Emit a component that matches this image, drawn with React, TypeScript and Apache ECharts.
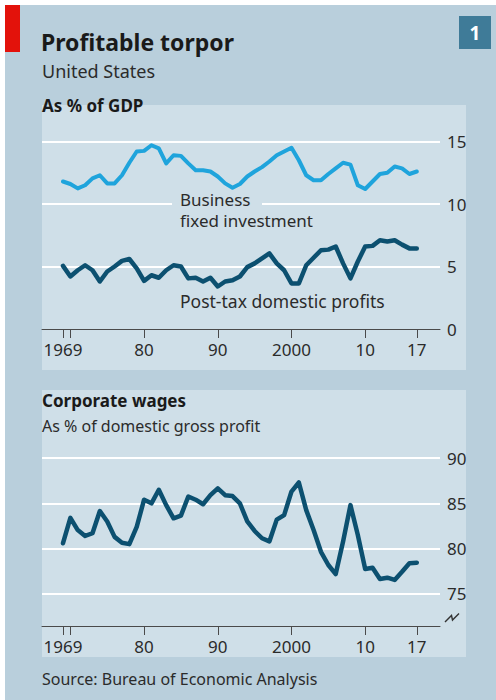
import React, { useEffect, useRef } from "react";
import * as echarts from "echarts";

const years = [
  1969, 1970, 1971, 1972, 1973, 1974, 1975, 1976, 1977, 1978, 1979,
  1980, 1981, 1982, 1983, 1984, 1985, 1986, 1987, 1988, 1989,
  1990, 1991, 1992, 1993, 1994, 1995, 1996, 1997, 1998, 1999,
  2000, 2001, 2002, 2003, 2004, 2005, 2006, 2007, 2008, 2009,
  2010, 2011, 2012, 2013, 2014, 2015, 2016, 2017,
];

const businessInvestment = [
  11.8, 11.6, 11.25, 11.5, 12.05, 12.3, 11.65, 11.65, 12.3, 13.3, 14.2,
  14.25, 14.7, 14.45, 13.25, 13.9, 13.85, 13.25, 12.7, 12.7, 12.6,
  12.2, 11.65, 11.3, 11.6, 12.2, 12.6, 12.95, 13.4, 13.9, 14.2,
  14.5, 13.5, 12.3, 11.9, 11.9, 12.4, 12.85, 13.3, 13.15, 11.5,
  11.2, 11.8, 12.4, 12.5, 13.0, 12.85, 12.4, 12.6,
];

const postTaxProfits = [
  5.05, 4.2, 4.7, 5.1, 4.7, 3.8, 4.6, 5.0, 5.45, 5.6, 4.85,
  3.85, 4.3, 4.1, 4.7, 5.1, 5.0, 4.05, 4.1, 3.8, 4.1,
  3.4, 3.8, 3.9, 4.2, 4.95, 5.25, 5.65, 6.05, 5.25, 4.7,
  3.65, 3.65, 5.1, 5.7, 6.3, 6.35, 6.6, 5.25, 4.05, 5.4,
  6.6, 6.65, 7.1, 7.0, 7.1, 6.75, 6.45, 6.45,
];

const corporateWages = [
  80.6, 83.4, 82.05, 81.4, 81.7, 84.15, 83.0, 81.3, 80.65, 80.5, 82.4,
  85.4, 85.0, 86.5, 84.8, 83.35, 83.65, 85.75, 85.4, 84.9, 85.9,
  86.65, 85.9, 85.8, 85.0, 83.0, 81.95, 81.15, 80.8, 83.2, 83.7,
  86.3, 87.3, 84.25, 82.05, 79.65, 78.2, 77.2, 80.8, 84.8, 81.5,
  77.75, 77.9, 76.65, 76.8, 76.55, 77.45, 78.4, 78.45,
];

const xTickYears = [1969, 1970, 1980, 1990, 2000, 2010, 2017];
const xLabelYears = [1969, 1980, 1990, 2000, 2010, 2017];
const xLabelText: Record<number, string> = {
  1969: "1969", 1980: "80", 1990: "90", 2000: "2000", 2010: "10", 2017: "17",
};
const topGridValues = [5, 10, 15];
const topLabelValues = [0, 5, 10, 15];
const bottomGridValues = [75, 80, 85, 90];

const FONT = '"Noto Sans", "DejaVu Sans", sans-serif';
const PANEL = "#cfdfe8";
const OUTER = "#b9cfdc";
const TEXT = "#2b2b2b";

function pairs(vals: number[]) {
  return years.map((y, i) => [y, vals[i]]);
}

function makeXAxis(gridIndex: number) {
  return {
    type: "value",
    gridIndex,
    min: 1966.15,
    max: 2020.15,
    splitLine: { show: false },
    axisLine: { show: true, lineStyle: { color: "#4a4a4a", width: 1 } },
    axisTick: {
      show: true,
      customValues: xTickYears,
      length: 9,
      inside: false,
      lineStyle: { color: "#4a4a4a", width: 1 },
    },
    axisLabel: {
      show: true,
      customValues: xLabelYears,
      margin: 12,
      fontSize: 17,
      fontFamily: FONT,
      color: TEXT,
      formatter: (v: number) => xLabelText[Math.round(v)] ?? "",
    },
  };
}

export default function App() {
  const ref = useRef<HTMLDivElement>(null);

  useEffect(() => {
    if (!ref.current) return;
    const chart = echarts.init(ref.current, undefined, { renderer: "svg" });

    const option: any = {
      animation: false,
      backgroundColor: "#ffffff",
      grid: [
        { left: 42, right: 56, top: 141.5, bottom: 371, containLabel: false },
        { left: 42, right: 56, top: 458, bottom: 74, containLabel: false },
      ],
      xAxis: [makeXAxis(0), makeXAxis(1)],
      yAxis: [
        {
          type: "value",
          gridIndex: 0,
          position: "right",
          min: 0,
          max: 15,
          axisLine: { show: false },
          axisTick: { show: false, customValues: topGridValues },
          splitLine: { show: true, lineStyle: { color: "#ffffff", width: 2 } },
          axisLabel: {
            customValues: topLabelValues,
            margin: 7,
            fontSize: 17,
            fontFamily: FONT,
            color: TEXT,
          },
        },
        {
          type: "value",
          gridIndex: 1,
          position: "right",
          min: 71.47,
          max: 90,
          axisLine: { show: false },
          axisTick: { show: false, customValues: bottomGridValues },
          splitLine: { show: true, lineStyle: { color: "#ffffff", width: 2 } },
          axisLabel: {
            customValues: bottomGridValues,
            margin: 7,
            fontSize: 17,
            fontFamily: FONT,
            color: TEXT,
          },
        },
      ],
      series: [
        {
          name: "Business fixed investment",
          type: "line",
          xAxisIndex: 0,
          yAxisIndex: 0,
          data: pairs(businessInvestment),
          showSymbol: false,
          symbol: "none",
          lineStyle: { color: "#1fa4dc", width: 4, join: "round", cap: "round" },
          z: 3,
        },
        {
          name: "Post-tax domestic profits",
          type: "line",
          xAxisIndex: 0,
          yAxisIndex: 0,
          data: pairs(postTaxProfits),
          showSymbol: false,
          symbol: "none",
          lineStyle: { color: "#0c5070", width: 4.5, join: "round", cap: "round" },
          z: 3,
        },
        {
          name: "Corporate wages",
          type: "line",
          xAxisIndex: 1,
          yAxisIndex: 1,
          data: pairs(corporateWages),
          showSymbol: false,
          symbol: "none",
          lineStyle: { color: "#0c5070", width: 4.5, join: "round", cap: "round" },
          z: 3,
        },
      ],
      graphic: [
        { type: "rect", z: -30, silent: true, shape: { x: 0, y: 0, width: 496, height: 700 }, style: { fill: "#ffffff" } },
        { type: "rect", z: -29, silent: true, shape: { x: 5, y: 5, width: 491, height: 695 }, style: { fill: OUTER } },
        { type: "rect", z: -28, silent: true, shape: { x: 5, y: 5, width: 15, height: 47 }, style: { fill: "#e3120b" } },
        { type: "rect", z: -28, silent: true, shape: { x: 42, y: 105, width: 424, height: 265 }, style: { fill: PANEL } },
        { type: "rect", z: -28, silent: true, shape: { x: 42, y: 390, width: 424, height: 267 }, style: { fill: PANEL } },
        { type: "rect", z: 5, silent: true, shape: { x: 459, y: 16, width: 32, height: 33 }, style: { fill: "#3f7b98" } },
        { type: "text", z: 6, silent: true, style: { text: "1", x: 475, y: 33, fill: "#ffffff", font: `bold 19px ${FONT}`, align: "center", verticalAlign: "middle" } },
        { type: "text", z: 6, silent: true, style: { text: "Profitable torpor", x: 41, y: 41.5, fill: "#1a1a1a", font: `bold 23px ${FONT}`, align: "left", verticalAlign: "middle" } },
        { type: "text", z: 6, silent: true, style: { text: "United States", x: 42, y: 71, fill: TEXT, font: `18px ${FONT}`, align: "left", verticalAlign: "middle" } },
        { type: "text", z: 6, silent: true, style: { text: "As % of GDP", x: 42, y: 105.5, fill: "#1a1a1a", font: `bold 17px ${FONT}`, align: "left", verticalAlign: "middle" } },
        { type: "rect", z: 5, silent: true, shape: { x: 172, y: 197, width: 90, height: 12 }, style: { fill: PANEL } },
        { type: "text", z: 6, silent: true, style: { text: "Business\nfixed investment", x: 180, y: 189, lineHeight: 21, fill: TEXT, font: `17px ${FONT}`, align: "left", verticalAlign: "top" } },
        { type: "text", z: 6, silent: true, style: { text: "Post-tax domestic profits", x: 180, y: 301, fill: TEXT, font: `17.5px ${FONT}`, align: "left", verticalAlign: "middle" } },
        { type: "text", z: 6, silent: true, style: { text: "Corporate wages", x: 42, y: 400, fill: "#1a1a1a", font: `bold 17px ${FONT}`, align: "left", verticalAlign: "middle" } },
        { type: "text", z: 6, silent: true, style: { text: "As % of domestic gross profit", x: 42, y: 426, fill: TEXT, font: `16px ${FONT}`, align: "left", verticalAlign: "middle" } },
        { type: "text", z: 6, silent: true, style: { text: "Source: Bureau of Economic Analysis", x: 42, y: 679, fill: TEXT, font: `16px ${FONT}`, align: "left", verticalAlign: "middle" } },
        { type: "polyline", z: 6, silent: true, shape: { points: [[445, 622], [451.5, 615.5], [452.5, 620], [459, 613.5]] }, style: { stroke: "#333333", lineWidth: 1.4, fill: "none" } },
      ],
    };

    chart.setOption(option);
    return () => chart.dispose();
  }, []);

  return (
    <div
      ref={ref}
      style={{ position: "absolute", left: 0, top: 0, width: 496, height: 700 }}
    />
  );
}
